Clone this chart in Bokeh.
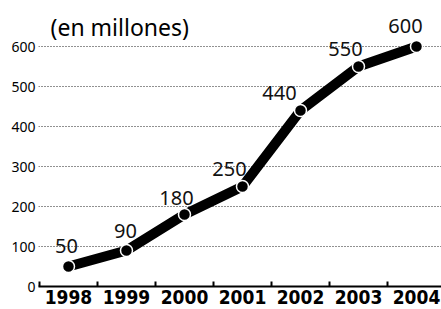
from bokeh.plotting import figure
from bokeh.models import FixedTicker, Range1d, ColumnDataSource, Label
from bokeh.core.properties import value
from bokeh.embed import file_html
from bokeh.resources import INLINE

# ---- data ----
years = [1998, 1999, 2000, 2001, 2002, 2003, 2004]
values = [50, 90, 180, 250, 440, 550, 600]
value_labels = ["50", "90", "180", "250", "440", "550", "600"]
y_ticks = [0, 100, 200, 300, 400, 500, 600]
title_text = "(en millones)"

# label placement (pixels), style only
label_dx = [-2, -1, -8, -13, -21, -13, -11]
label_dy = [-21, -20, -17, -18, -18, -18, -21]

p = figure(width=441, height=309,
           x_range=Range1d(1997.483, 2004.431), y_range=Range1d(0, 715),
           output_backend="svg", toolbar_location=None,
           min_border_left=38, min_border_right=0,
           min_border_top=0, min_border_bottom=23)
p.outline_line_color = None
p.background_fill_color = "white"

# x axis
p.xaxis.ticker = FixedTicker(ticks=years, minor_ticks=[y - 0.5 for y in years])
p.xaxis.major_tick_in = 0
p.xaxis.major_tick_out = 0
p.xaxis.minor_tick_in = 5
p.xaxis.minor_tick_out = 0
p.xaxis.minor_tick_line_width = 2
p.xaxis.minor_tick_line_color = "black"
p.xaxis.axis_line_width = 2
p.xaxis.axis_line_color = "black"
p.xaxis.major_label_text_font = "DejaVu Sans Condensed"
p.xaxis.major_label_text_font_style = "bold"
p.xaxis.major_label_text_font_size = "19px"
p.xaxis.major_label_text_color = "black"
p.xaxis.major_label_standoff = 3

# y axis
p.yaxis.ticker = FixedTicker(ticks=y_ticks)
p.yaxis.axis_line_color = None
p.yaxis.major_tick_line_color = None
p.yaxis.major_tick_in = 0
p.yaxis.major_tick_out = 0
p.yaxis.minor_tick_line_color = None
p.yaxis.minor_tick_in = 0
p.yaxis.minor_tick_out = 0
p.yaxis.major_label_text_font = "Noto Sans"
p.yaxis.major_label_text_font_size = "14px"
p.yaxis.major_label_text_color = "black"
p.yaxis.major_label_standoff = 3

# grid
p.xgrid.visible = False
p.ygrid.grid_line_color = "#222222"
p.ygrid.grid_line_dash = "1 2"
p.ygrid.grid_line_width = 1

src = ColumnDataSource(dict(x=years, y=values, label=value_labels,
                            dx=label_dx, dy=label_dy))

p.line("x", "y", source=src, line_width=10, line_color="black",
       line_join="round", line_cap="round")
p.scatter("x", "y", source=src, size=12, fill_color="black",
          line_color="white", line_width=1.5)
p.text("x", "y", text="label", source=src, x_offset="dx", y_offset="dy",
       text_align="center", text_baseline="middle",
       text_font=value("Noto Sans"), text_font_size="20px", text_color="#111111")

p.add_layout(Label(x=1997.69, y=650, text=title_text, text_align="left",
                   text_baseline="middle", text_font="Noto Sans",
                   text_font_size="23px", text_color="black"))

open("out.html", "w").write(file_html(p, INLINE))
